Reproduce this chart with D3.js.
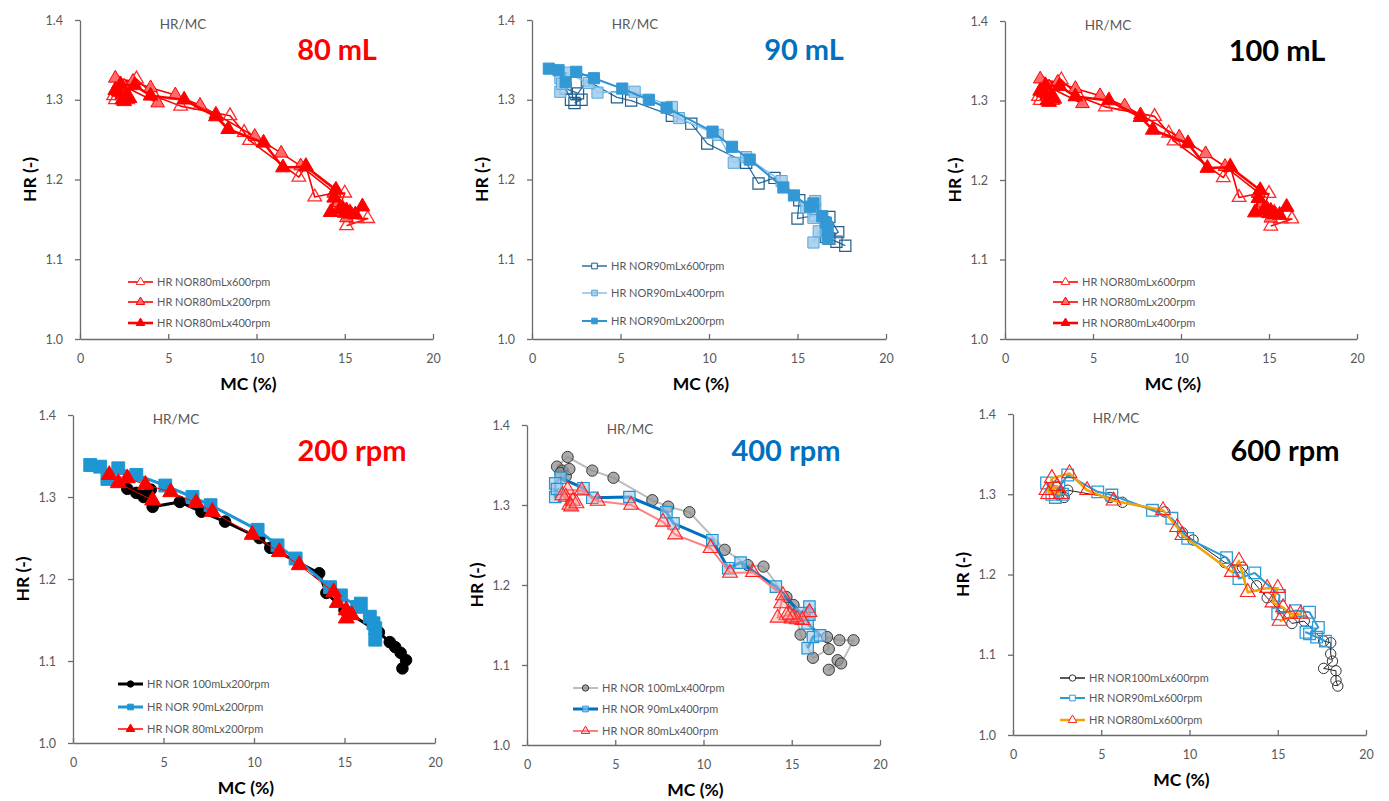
<!DOCTYPE html>
<html>
<head>
<meta charset="utf-8">
<script src="https://cdn.jsdelivr.net/npm/d3@7"></script>
<style>
  body { margin: 0; background: #fff; }
  svg { display: block; }
</style>
</head>
<body>
<svg id="chart" width="1389" height="801"></svg>
<script>
// ---- Moisture content (MC, %) and hygroscopic ratio (HR, -) per run ----
const mc_80_600 = [15.1,16.3,15.7,15.3,14.7,15.0,14.4,13.3,12.8,12.4,9.6,9.3,8.5,5.7,4.2,3.2,2.2,2.0,2.5,1.9,2.7];
const hr_80_600 = [1.142,1.151,1.151,1.159,1.165,1.183,1.183,1.178,1.217,1.203,1.249,1.259,1.280,1.292,1.305,1.326,1.320,1.300,1.310,1.305,1.300];

const mc_80_200 = [15.4,15.1,15.1,14.6,14.4,12.5,11.4,9.9,7.7,6.8,5.4,4.0,3.0,2.0,2.5,4.4];
const hr_80_200 = [1.156,1.152,1.162,1.171,1.184,1.217,1.233,1.254,1.282,1.293,1.306,1.315,1.323,1.327,1.317,1.296];

const mc_80_400 = [16.0,15.6,15.3,15.0,15.1,14.9,14.7,14.2,14.4,14.5,12.8,11.5,10.4,8.4,7.7,5.9,4.0,3.1,2.3,2.2,2.4,2.6,2.0,2.5,2.8];
const hr_80_400 = [1.166,1.156,1.157,1.158,1.160,1.163,1.162,1.159,1.177,1.187,1.216,1.215,1.246,1.263,1.279,1.300,1.305,1.318,1.319,1.310,1.300,1.305,1.312,1.298,1.302];

const mc_90_600 = [17.7,17.2,16.6,16.8,17.3,16.8,16.0,15.0,15.1,13.7,12.8,12.1,9.9,9.0,7.9,5.6,4.8,3.1,2.6,1.9,2.2,2.8,2.4];
const hr_90_600 = [1.117,1.122,1.128,1.126,1.134,1.153,1.155,1.151,1.174,1.202,1.195,1.221,1.245,1.270,1.280,1.299,1.303,1.324,1.308,1.314,1.300,1.300,1.296];

const mc_90_400 = [15.9,16.2,16.6,15.9,16.0,16.0,15.5,14.1,12.1,11.4,10.5,8.3,7.9,5.8,3.7,3.2,1.9,1.6,1.6,1.7];
const hr_90_400 = [1.121,1.135,1.137,1.152,1.163,1.173,1.165,1.198,1.228,1.221,1.256,1.277,1.291,1.310,1.309,1.321,1.334,1.327,1.310,1.320];

const mc_90_200 = [16.7,16.7,16.6,16.4,15.9,15.7,14.8,14.2,12.3,11.3,10.2,7.6,6.6,5.1,3.5,2.5,1.9,1.5,0.95];
const hr_90_200 = [1.126,1.140,1.146,1.154,1.170,1.166,1.180,1.190,1.225,1.241,1.260,1.290,1.300,1.314,1.327,1.335,1.322,1.337,1.339];

const mc_100_600 = [18.4,18.3,18.3,17.6,18.1,18.0,18.0,17.6,16.5,15.8,14.4,13.8,13.0,12.0,10.2,9.6,8.6,6.2,5.5,3.1,2.6,2.4,2.9];
const hr_100_600 = [1.061,1.068,1.080,1.083,1.092,1.101,1.115,1.117,1.142,1.139,1.171,1.186,1.209,1.215,1.243,1.252,1.278,1.290,1.296,1.305,1.300,1.310,1.296];

const mc_100_400 = [17.6,17.1,17.8,18.5,17.7,17.0,17.1,16.2,15.5,15.1,14.7,13.4,12.5,11.2,9.2,8.0,7.1,4.9,3.7,2.3,1.7,2.0,2.2,1.9,2.4];
const hr_100_400 = [1.106,1.094,1.102,1.131,1.131,1.135,1.120,1.109,1.138,1.175,1.185,1.223,1.225,1.244,1.291,1.298,1.306,1.334,1.343,1.360,1.348,1.343,1.336,1.340,1.345];

const mc_100_200 = [18.2,18.4,18.1,17.8,17.5,16.9,15.0,14.0,13.6,10.9,10.3,8.4,7.1,5.9,4.4,3.9,4.3,3.5,3.0];
const hr_100_200 = [1.091,1.101,1.110,1.117,1.123,1.135,1.162,1.183,1.207,1.238,1.250,1.270,1.282,1.294,1.288,1.300,1.309,1.305,1.310];

// ---- Axis ticks ----
const xTicks = [0, 5, 10, 15, 20];
const yTicks = [1.0, 1.1, 1.2, 1.3, 1.4];

const SERIES = {
  '80_600': { mc: mc_80_600, hr: hr_80_600 },
  '80_200': { mc: mc_80_200, hr: hr_80_200 },
  '80_400': { mc: mc_80_400, hr: hr_80_400 },
  '90_600': { mc: mc_90_600, hr: hr_90_600 },
  '90_400': { mc: mc_90_400, hr: hr_90_400 },
  '90_200': { mc: mc_90_200, hr: hr_90_200 },
  '100_600': { mc: mc_100_600, hr: hr_100_600 },
  '100_400': { mc: mc_100_400, hr: hr_100_400 },
  '100_200': { mc: mc_100_200, hr: hr_100_200 }
};

const FONT = 'Lato, "Open Sans", "DejaVu Sans", sans-serif';
const AXIS_GREY = '#6b6b6b';
const TEXT_GREY = '#595959';

// Marker / line styles for the 80 mL panel (reused by the third panel)
const style80 = [
  { key: '80_600', name: 'HR NOR80mLx600rpm', line: '#ff0000', lw: 1.6, shape: 'triangle', size: 80, fill: 'none', stroke: '#ff2a2a', sw: 1.3 },
  { key: '80_200', name: 'HR NOR80mLx200rpm', line: '#ff0000', lw: 1.6, shape: 'triangle', size: 80, fill: '#ff6b6b', stroke: '#ff0000', sw: 1 },
  { key: '80_400', name: 'HR NOR80mLx400rpm', line: '#ff0000', lw: 2.6, shape: 'triangle', size: 95, fill: '#ff0000', stroke: '#ff0000', sw: 1 }
];

const panels = [
  { left: 80, right: 433, top: 20, bottom: 339,
    title: '80 mL', titleColor: '#ff0000', titleX: 337, titleY: 60,
    legendX: 128, legendRows: [282, 302, 323], series: style80 },
  { left: 532, right: 886, top: 20, bottom: 339,
    title: '90 mL', titleColor: '#0070c0', titleX: 804, titleY: 60,
    legendX: 582, legendRows: [266, 293, 321],
    series: [
      { key: '90_600', name: 'HR NOR90mLx600rpm', line: '#2a6f9e', lw: 1.3, shape: 'square', size: 125, fill: 'none', stroke: '#1f5e8c', sw: 1.2 },
      { key: '90_400', name: 'HR NOR90mLx400rpm', line: '#86c0e8', lw: 1.5, shape: 'square', size: 125, fill: '#9fcbec', fo: 0.85, stroke: '#5aa8dc', sw: 1 },
      { key: '90_200', name: 'HR NOR90mLx200rpm', line: '#2e93d1', lw: 2, shape: 'square', size: 125, fill: '#3498d5', stroke: '#3498d5', sw: 1 }
    ] },
  { left: 1005, right: 1357, top: 21, bottom: 339,
    title: '100 mL', titleColor: '#000000', titleX: 1277, titleY: 61,
    legendX: 1053, legendRows: [282, 302, 323], series: style80 },
  { left: 73, right: 435, top: 415, bottom: 743,
    title: '200 rpm', titleColor: '#ff0000', titleX: 352, titleY: 461,
    legendX: 118, legendRows: [684, 707, 729],
    series: [
      { key: '100_200', name: 'HR NOR 100mLx200rpm', line: '#000000', lw: 3, shape: 'circle', size: 105, fill: '#000000', stroke: '#000000', sw: 1 },
      { key: '90_200', name: 'HR NOR 90mLx200rpm', line: '#1e96d4', lw: 3, shape: 'square', size: 165, fill: '#1e96d4', stroke: '#1e96d4', sw: 1 },
      { key: '80_200', name: 'HR NOR 80mLx200rpm', line: '#ff0000', lw: 1, shape: 'triangle', size: 110, fill: '#ff0000', stroke: '#ff0000', sw: 1 }
    ] },
  { left: 527, right: 880, top: 425, bottom: 745,
    title: '400 rpm', titleColor: '#0070c0', titleX: 786, titleY: 461,
    legendX: 573, legendRows: [688, 709, 731],
    series: [
      { key: '100_400', name: 'HR NOR 100mLx400rpm', line: '#bdbdbd', lw: 2, shape: 'circle', size: 100, fill: '#8f8f8f', fo: 0.75, stroke: '#3a3a3a', sw: 1 },
      { key: '90_400', name: 'HR NOR 90mLx400rpm', line: '#0070c0', lw: 3, shape: 'square', size: 130, fill: '#9dc8ea', fo: 0.6, stroke: '#1f94d6', sw: 1.2 },
      { key: '80_400', name: 'HR NOR 80mLx400rpm', line: '#ff8080', lw: 2, shape: 'triangle', size: 95, fill: '#ff8a8a', fo: 0.35, stroke: '#ff2020', sw: 1.1 }
    ] },
  { left: 1013, right: 1366, top: 414, bottom: 735,
    title: '600 rpm', titleColor: '#000000', titleX: 1285, titleY: 461,
    legendX: 1060, legendRows: [678, 698, 720],
    series: [
      { key: '100_600', name: 'HR NOR100mLx600rpm', line: '#222222', lw: 1, shape: 'circle', size: 85, fill: 'none', stroke: '#333333', sw: 1 },
      { key: '90_600', name: 'HR NOR90mLx600rpm', line: '#2e9bd6', lw: 2, shape: 'square', size: 135, fill: 'none', stroke: '#2e9bd6', sw: 1.3 },
      { key: '80_600', name: 'HR NOR80mLx600rpm', line: '#f0a30a', lw: 2.5, shape: 'triangle', size: 95, fill: 'none', stroke: '#ff2020', sw: 1.1 }
    ] }
];

const symbolType = { triangle: d3.symbolTriangle, square: d3.symbolSquare, circle: d3.symbolCircle };
const svg = d3.select('#chart');

function drawPanel(p) {
  const x = d3.scaleLinear().domain([0, 20]).range([p.left, p.right]);
  const y = d3.scaleLinear().domain([1.0, 1.4]).range([p.bottom, p.top]);
  const g = svg.append('g');

  // axes
  const xa = g.append('g').attr('transform', `translate(0,${p.bottom})`)
    .call(d3.axisBottom(x).tickValues(xTicks).tickSizeInner(-5).tickSizeOuter(0)
      .tickPadding(15).tickFormat(d3.format('d')));
  const ya = g.append('g').attr('transform', `translate(${p.left},0)`)
    .call(d3.axisLeft(y).tickValues(yTicks).tickSizeInner(5).tickSizeOuter(0)
      .tickPadding(12).tickFormat(d3.format('.1f')));
  [xa, ya].forEach(a => {
    a.select('.domain').attr('stroke', AXIS_GREY).attr('stroke-width', 1.3);
    a.selectAll('.tick line').attr('stroke', AXIS_GREY).attr('stroke-width', 1.3);
    a.selectAll('.tick text').attr('fill', TEXT_GREY)
      .style('font-size', '12.5px').style('font-family', FONT);
  });

  // axis titles
  g.append('text')
    .attr('x', (p.left + p.right) / 2 - 8).attr('y', p.bottom + 51)
    .attr('text-anchor', 'middle').attr('fill', '#000')
    .style('font-family', FONT).style('font-size', '17.5px').style('font-weight', 'bold')
    .text('MC (%)');
  const yMid = (p.top + p.bottom) / 2;
  g.append('text')
    .attr('transform', `translate(${p.left - 44},${yMid}) rotate(-90)`)
    .attr('text-anchor', 'middle').attr('fill', '#000')
    .style('font-family', FONT).style('font-size', '17.5px').style('font-weight', 'bold')
    .text('HR (-)');

  // chart caption
  g.append('text')
    .attr('x', p.left + 103).attr('y', p.top + 9)
    .attr('text-anchor', 'middle').attr('fill', TEXT_GREY)
    .style('font-family', FONT).style('font-size', '13.5px')
    .text('HR/MC');

  // series: line first, then markers
  const line = d3.line().x(d => x(d[0])).y(d => y(d[1]));
  p.series.forEach(s => {
    const src = SERIES[s.key];
    const pts = src.mc.map((m, i) => [m, src.hr[i]]);
    g.append('path').datum(pts)
      .attr('d', line).attr('fill', 'none')
      .attr('stroke', s.line).attr('stroke-width', s.lw)
      .attr('stroke-linejoin', 'round');
    g.append('g').selectAll('path').data(pts).join('path')
      .attr('transform', d => `translate(${x(d[0])},${y(d[1])})`)
      .attr('d', d3.symbol(symbolType[s.shape], s.size))
      .attr('fill', s.fill).attr('fill-opacity', s.fo == null ? 1 : s.fo)
      .attr('stroke', s.stroke).attr('stroke-width', s.sw);
  });

  // legend
  p.series.forEach((s, i) => {
    const ly = p.legendRows[i];
    const lg = g.append('g');
    lg.append('line')
      .attr('x1', p.legendX).attr('x2', p.legendX + 25)
      .attr('y1', ly).attr('y2', ly)
      .attr('stroke', s.line).attr('stroke-width', Math.max(s.lw, 1.5));
    lg.append('path')
      .attr('transform', `translate(${p.legendX + 12.5},${ly})`)
      .attr('d', d3.symbol(symbolType[s.shape], 32))
      .attr('fill', s.fill === 'none' ? '#ffffff' : s.fill)
      .attr('fill-opacity', s.fo == null ? 1 : s.fo)
      .attr('stroke', s.stroke).attr('stroke-width', 1);
    lg.append('text')
      .attr('x', p.legendX + 29).attr('y', ly + 3.5)
      .attr('fill', TEXT_GREY)
      .style('font-family', FONT).style('font-size', '11px')
      .text(s.name);
  });

  // panel label
  g.append('text')
    .attr('x', p.titleX).attr('y', p.titleY)
    .attr('text-anchor', 'middle').attr('fill', p.titleColor)
    .style('font-family', FONT).style('font-size', '29px').style('font-weight', 'bold')
    .text(p.title);
}

panels.forEach(drawPanel);
</script>
</body>
</html>
